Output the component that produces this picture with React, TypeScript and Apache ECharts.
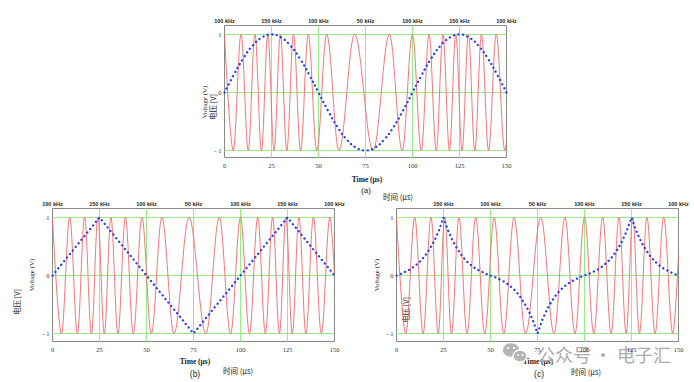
import React, { useEffect, useRef } from 'react';
import * as echarts from 'echarts';

// ---- axis ticks / labels ----
const timeTicks = [0, 25, 50, 75, 100, 125, 150];
const freqLabels = ['100 kHz', '150 kHz', '100 kHz', '50 kHz', '100 kHz', '150 kHz', '100 kHz'];
const yTicks = [-1, 0, 1];
const yTickLabels = ['- 1', '0', '1'];

// ---- red FM carrier: times (µs) of alternating maxima (+1) / minima (-1), then value at 150 µs ----
const redExtremaA = [0, 4.66, 8.81, 12.63, 16.21, 19.66, 23.03, 26.36, 29.72, 33.15, 36.7, 40.47, 44.54, 49.1, 54.38, 60.87, 69.22, 79.03, 87.74, 94.54, 100, 104.66, 108.81, 112.63, 116.21, 119.66, 123.03, 126.36, 129.72, 133.15, 136.7, 140.47, 144.54, 149.1];
const redEndA = -0.84;
const redExtremaB = [0, 4.77, 9.16, 13.25, 17.08, 20.71, 24.16, 27.54, 31.08, 34.81, 38.76, 42.99, 47.56, 52.57, 58.17, 64.64, 72.61, 81.62, 88.73, 94.72, 100, 104.77, 109.16, 113.25, 117.08, 120.71, 124.16, 127.54, 131.08, 134.81, 138.76, 142.99, 147.56];
const redEndB = 0;
const redExtremaC = [0, 4.93, 9.67, 14.17, 18.35, 22.18, 25.65, 29.24, 33.21, 37.52, 42.12, 46.94, 51.93, 57.08, 62.53, 68.64, 76.77, 83.82, 89.61, 94.92, 100, 104.93, 109.67, 114.17, 118.35, 122.18, 125.65, 129.24, 133.21, 137.52, 142.12, 146.94];
const redEndC = 0.36;

// ---- blue modulating signals [time µs, volts] ----
const blueA = [
  [0, 0], [5, 0.31], [10, 0.59], [15, 0.81], [20, 0.95], [25, 1], [30, 0.95], [35, 0.81], [40, 0.59], [45, 0.31],
  [50, 0], [55, -0.31], [60, -0.59], [65, -0.81], [70, -0.95], [75, -1], [80, -0.95], [85, -0.81], [90, -0.59], [95, -0.31],
  [100, 0], [105, 0.31], [110, 0.59], [115, 0.81], [120, 0.95], [125, 1], [130, 0.95], [135, 0.81], [140, 0.59], [145, 0.31], [150, 0],
];
const blueB = [[0, 0], [25, 1], [75, -1], [125, 1], [150, 0]];
const blueC = [
  [0, 0], [2.5, 0.03], [5, 0.07], [7.5, 0.11], [10, 0.17], [12.5, 0.24], [15, 0.33], [17.5, 0.45], [20, 0.59], [22.5, 0.77],
  [25, 1], [27.5, 0.77], [30, 0.59], [32.5, 0.45], [35, 0.33], [37.5, 0.24], [40, 0.17], [42.5, 0.11], [45, 0.07], [47.5, 0.03],
  [50, 0], [52.5, -0.03], [55, -0.07], [57.5, -0.11], [60, -0.17], [62.5, -0.24], [65, -0.33], [67.5, -0.45], [70, -0.59], [72.5, -0.77],
  [75, -1], [77.5, -0.77], [80, -0.59], [82.5, -0.45], [85, -0.33], [87.5, -0.24], [90, -0.17], [92.5, -0.11], [95, -0.07], [97.5, -0.03],
  [100, 0], [102.5, 0.03], [105, 0.07], [107.5, 0.11], [110, 0.17], [112.5, 0.24], [115, 0.33], [117.5, 0.45], [120, 0.59], [122.5, 0.77],
  [125, 1], [127.5, 0.77], [130, 0.59], [132.5, 0.45], [135, 0.33], [137.5, 0.24], [140, 0.17], [142.5, 0.11], [145, 0.07], [147.5, 0.03], [150, 0],
];

const GREEN = '#98ec86';
const RED = '#ee6666';
const BLUE = '#2340f0';
const SERIF = '"Liberation Serif", "DejaVu Serif", serif';
const SANS = '"Liberation Sans", Arial, sans-serif';
const CJK = '"Noto Sans CJK SC", sans-serif';

function redData(ext: number[], endV: number) {
  const d: number[][] = ext.map((t, i) => [t, i % 2 === 0 ? 1 : -1]);
  d.push([150, endV]);
  return d;
}

const panels = [
  { grid: { left: 224.5, top: 25.5, width: 282, height: 132 }, yMin: -1.12069, yMax: 1.15517, red: redData(redExtremaA, redEndA), blue: blueA, blueSmooth: true, hideFirstFreq: false },
  { grid: { left: 52.5, top: 208.5, width: 282, height: 133 }, yMin: -1.13793, yMax: 1.15517, red: redData(redExtremaB, redEndB), blue: blueB, blueSmooth: false, hideFirstFreq: false },
  { grid: { left: 396.5, top: 208.5, width: 282, height: 133 }, yMin: -1.13793, yMax: 1.15517, red: redData(redExtremaC, redEndC), blue: blueC, blueSmooth: false, hideFirstFreq: true },
];

function findLabel(v: number, ticks: number[], labels: string[]) {
  for (let i = 0; i < ticks.length; i++) if (Math.abs(ticks[i] - v) < 1e-6) return labels[i];
  return '';
}

function txt(text: string, x: number, y: number, font: string, opts: any = {}) {
  return {
    type: 'text', x, y, rotation: opts.rotation || 0, silent: true,
    style: { text, font, fill: opts.fill || '#222', align: 'center', verticalAlign: 'middle' },
  };
}

export default function App() {
  const ref = useRef<HTMLDivElement>(null);
  useEffect(() => {
    if (!ref.current) return;
    const chart = echarts.init(ref.current, undefined, { renderer: 'svg' });
    const grid: any[] = [];
    const xAxis: any[] = [];
    const yAxis: any[] = [];
    const series: any[] = [];
    panels.forEach((p, i) => {
      grid.push({ ...p.grid, show: true, borderColor: '#848c84', borderWidth: 1, backgroundColor: 'transparent' });
      xAxis.push({
        type: 'value', gridIndex: i, min: 0, max: 150, interval: 25, position: 'bottom',
        axisLine: { show: false }, axisTick: { show: false }, splitLine: { show: false },
        axisLabel: { fontSize: 6.5, fontFamily: SERIF, color: '#333', margin: 4, formatter: (v: number) => findLabel(v, timeTicks, timeTicks.map(String)) },
      });
      xAxis.push({
        type: 'value', gridIndex: i, min: 0, max: 150, interval: 25, position: 'top',
        axisLine: { show: false }, axisTick: { show: false }, splitLine: { show: false },
        axisLabel: {
          fontSize: 5.5, fontWeight: 'bold', fontFamily: SANS, color: '#222', margin: 2,
          showMinLabel: !p.hideFirstFreq,
          formatter: (v: number) => findLabel(v, timeTicks, freqLabels),
        },
      });
      yAxis.push({
        type: 'value', gridIndex: i, min: p.yMin, max: p.yMax,
        axisLine: { show: false }, axisTick: { show: false }, splitLine: { show: false },
        axisLabel: {
          customValues: yTicks, fontSize: 6.5, fontFamily: SERIF, color: '#333', margin: 3,
          formatter: (v: number) => findLabel(v, yTicks, yTickLabels),
        },
      });
      series.push({
        type: 'line', xAxisIndex: 2 * i, yAxisIndex: i, data: [], silent: true, z: 1,
        markLine: {
          silent: true, symbol: 'none', z: 1, animation: false,
          label: { show: false },
          lineStyle: { color: GREEN, width: 1, type: 'solid', opacity: 1 },
          data: [
            ...yTicks.map((v) => ({ yAxis: v })),
            ...timeTicks.slice(1, -1).map((v) => ({ xAxis: v })),
          ],
        },
      });
      series.push({
        type: 'line', xAxisIndex: 2 * i, yAxisIndex: i, data: p.red, symbol: 'none', showSymbol: false,
        smooth: 0.36, smoothMonotone: 'x', silent: true, z: 2,
        lineStyle: { color: RED, width: 0.9 },
      });
      series.push({
        type: 'line', xAxisIndex: 2 * i, yAxisIndex: i, data: p.blue, symbol: 'none', showSymbol: false,
        smooth: p.blueSmooth, silent: true, z: 3,
        lineStyle: { color: BLUE, width: 2.3, type: [0.1, 4.5], cap: 'round' },
      });
    });

    const graphic: any[] = [
      // panel a
      txt('Voltage (V)', 205, 102, `7px ${SERIF}`, { rotation: Math.PI / 2 }),
      txt('电压 [V]', 212, 107, `7.5px ${CJK}`, { rotation: Math.PI / 2 }),
      txt('Time (μs)', 367, 179.5, `bold 7.5px ${SERIF}`),
      txt('(a)', 366, 190, `8px ${SANS}`),
      txt('时间 (μs)', 398, 196, `7.5px ${CJK}`),
      // panel b
      txt('Voltage (V)', 32, 275, `7px ${SERIF}`, { rotation: Math.PI / 2 }),
      txt('电压 [V]', 16, 302, `7.5px ${CJK}`, { rotation: Math.PI / 2 }),
      txt('Time (μs)', 195, 361, `bold 7.5px ${SERIF}`),
      txt('(b)', 195, 373.5, `8.5px ${SANS}`),
      txt('时间 (μs)', 238, 370, `7.5px ${CJK}`),
      // panel c
      txt('Voltage (V)', 377, 275, `7px ${SERIF}`, { rotation: Math.PI / 2 }),
      txt('电压 [V]', 405, 310, `7.5px ${CJK}`, { rotation: Math.PI / 2 }),
      txt('Time (μs)', 538, 361, `bold 7.5px ${SERIF}`),
      txt('(c)', 539, 373.5, `8.5px ${SANS}`),
      txt('时间 (μs)', 586, 371, `7.5px ${CJK}`),
      // watermark
      { type: 'ellipse', silent: true, shape: { cx: 511, cy: 350, rx: 8.5, ry: 7.2 }, style: { fill: '#b4b4b4', stroke: '#fff', lineWidth: 1 } },
      { type: 'circle', silent: true, shape: { cx: 508, cy: 348, r: 1.1 }, style: { fill: '#fff' } },
      { type: 'circle', silent: true, shape: { cx: 514, cy: 348, r: 1.1 }, style: { fill: '#fff' } },
      { type: 'ellipse', silent: true, shape: { cx: 520, cy: 356, rx: 7, ry: 6 }, style: { fill: '#b4b4b4', stroke: '#fff', lineWidth: 1.3 } },
      { type: 'circle', silent: true, shape: { cx: 518, cy: 355, r: 0.9 }, style: { fill: '#fff' } },
      { type: 'circle', silent: true, shape: { cx: 522.5, cy: 355, r: 0.9 }, style: { fill: '#fff' } },
      { type: 'text', silent: true, x: 537, y: 354, style: { text: '公众号', font: `18px ${CJK}`, fill: '#ababab', align: 'left', verticalAlign: 'middle' } },
      { type: 'text', silent: true, x: 603, y: 354, style: { text: '·', font: `18px ${CJK}`, fill: '#ababab', align: 'center', verticalAlign: 'middle' } },
      { type: 'text', silent: true, x: 617, y: 354, style: { text: '电子汇', font: `18px ${CJK}`, fill: '#ababab', align: 'left', verticalAlign: 'middle' } },
    ];

    chart.setOption({
      animation: false,
      backgroundColor: '#fff',
      grid, xAxis, yAxis, series, graphic,
    });
    return () => chart.dispose();
  }, []);
  return <div ref={ref} style={{ position: 'absolute', left: 0, top: 0, width: 694, height: 382 }} />;
}
